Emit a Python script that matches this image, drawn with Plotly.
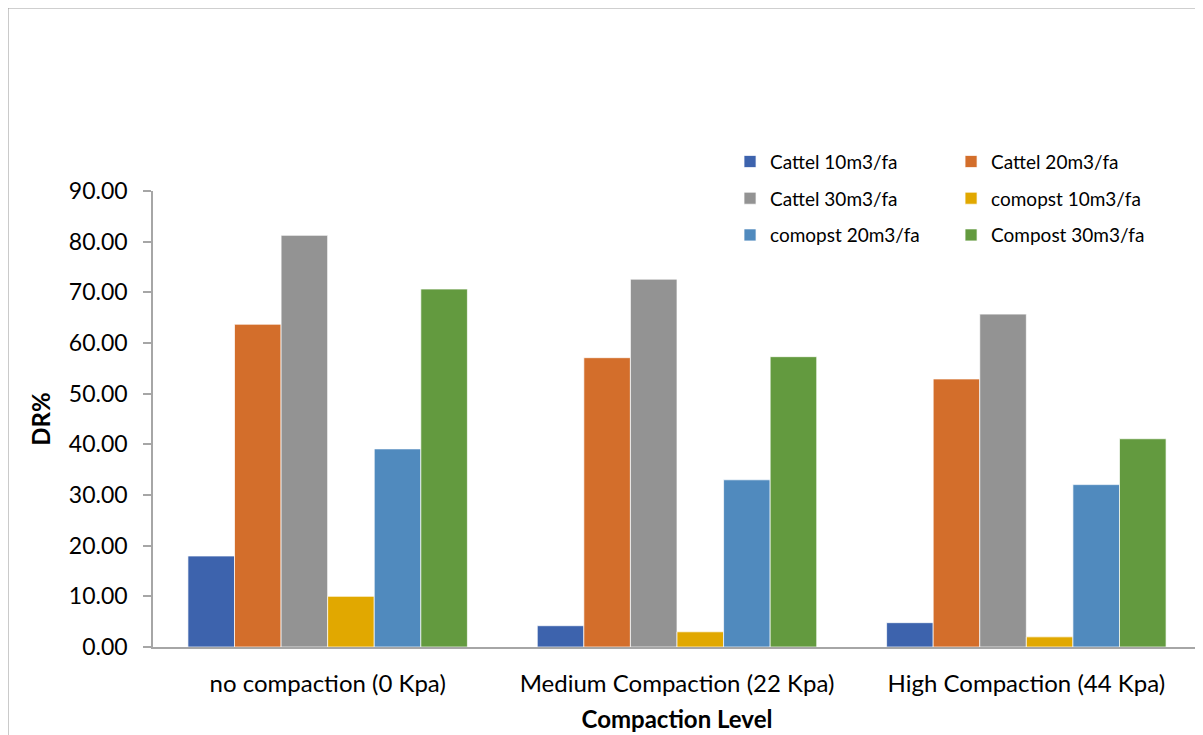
import plotly.graph_objects as go

categories = ["no compaction (0 Kpa)", "Medium Compaction (22 Kpa)", "High Compaction (44 Kpa)"]
series_names = ["Cattel 10m3/fa", "Cattel 20m3/fa", "Cattel 30m3/fa",
                "comopst 10m3/fa", "comopst 20m3/fa", "Compost 30m3/fa"]
cattel_10 = [17.96, 4.2, 4.8]
cattel_20 = [63.7, 57.1, 52.9]
cattel_30 = [81.25, 72.6, 65.7]
compost_10 = [10.0, 3.0, 2.0]
compost_20 = [39.1, 33.0, 32.05]
compost_30 = [70.65, 57.3, 41.1]
y_ticks = [0, 10, 20, 30, 40, 50, 60, 70, 80, 90]

values = [cattel_10, cattel_20, cattel_30, compost_10, compost_20, compost_30]
colors = ["#3D63AD", "#D36E2B", "#939393", "#E1A800", "#508ABE", "#639A3F"]
legend_ids = ["legend", "legend2", "legend", "legend2", "legend", "legend2"]

FONT = "Lato"

fig = go.Figure()
for name, vals, col, lg in zip(series_names, values, colors, legend_ids):
    fig.add_trace(go.Bar(
        x=categories, y=vals, name=name, legend=lg, legendgroup=name,
        marker=dict(color=col, line=dict(color="rgba(255,255,255,0.7)", width=1)),
    ))

legend_common = dict(
    orientation="v", yanchor="top", xanchor="left",
    font=dict(family=FONT, size=19, color="#000000"),
    bgcolor="rgba(0,0,0,0)", tracegroupgap=9, traceorder="grouped",
)

fig.update_layout(
    width=1195, height=735,
    margin=dict(l=145, r=2, t=183, b=96, autoexpand=False),
    paper_bgcolor="white", plot_bgcolor="white",
    font=dict(family=FONT, color="#000000"),
    barmode="group", bargap=0.2, bargroupgap=0,
    legend=dict(x=0.5506, y=1.106, **legend_common),
    legend2=dict(x=0.7615, y=1.106, **legend_common),
    xaxis=dict(
        showline=True, linecolor="#A6A6A6", linewidth=1.5,
        ticks="", tickfont=dict(family=FONT, size=24, color="#000000"),
        ticklabelstandoff=14,
        title=dict(text="<b>Compaction Level</b>", font=dict(family=FONT, size=24, color="#000000"), standoff=16),
        automargin=False,
    ),
    yaxis=dict(
        range=[0, 90], tickvals=y_ticks, tickformat=".2f",
        showline=True, linecolor="#A6A6A6", linewidth=1.5,
        ticks="outside", ticklen=8, tickcolor="#A6A6A6", tickwidth=1.5,
        showgrid=False, zeroline=False,
        tickfont=dict(family=FONT, size=23, color="#000000"),
        ticklabelstandoff=11,
        title=dict(text="<b>DR%</b>", font=dict(family=FONT, size=24, color="#000000"), standoff=11),
        automargin=False,
    ),
    shapes=[dict(type="rect", xref="paper", yref="paper",
                 x0=-0.1384, x1=1.0, y0=-1.0, y1=1.4013,
                 line=dict(color="#A0A0A0", width=1.2), fillcolor="rgba(0,0,0,0)", layer="below")],
    showlegend=True,
)

fig.write_html("out.html")
